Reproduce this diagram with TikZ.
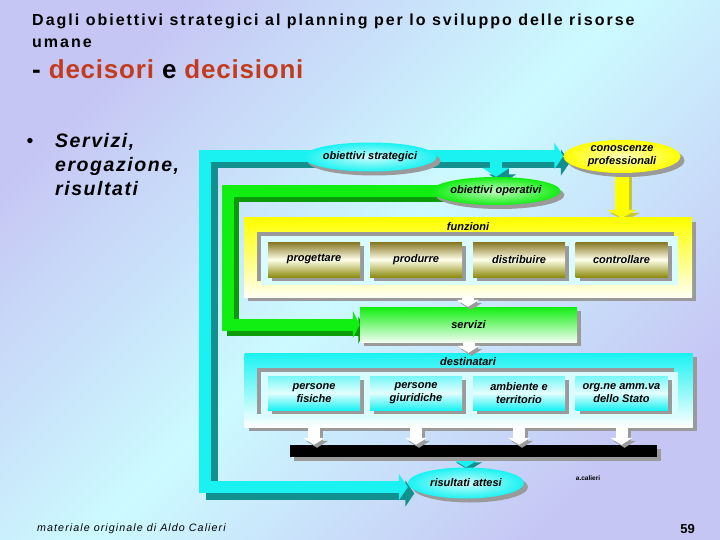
\documentclass[tikz,border=0pt]{standalone}
\usepackage{fontspec}
\setmainfont{Liberation Sans}
\newfontfamily\titolofont[LetterSpace=12.5]{Liberation Sans}
\newfontfamily\decifont[LetterSpace=3]{Liberation Sans}
\newfontfamily\puntofont[LetterSpace=8]{Liberation Sans}
\newfontfamily\piedefont[LetterSpace=10]{Liberation Sans}
\usetikzlibrary{shapes, shadows, positioning, arrows.meta}
\pgfdeclarelayer{sfondo}
\pgfdeclarelayer{fasce}
\pgfsetlayers{sfondo,fasce,main}

\definecolor{lavanda}{HTML}{C6C6F4}
\definecolor{celeste}{HTML}{CCFAFF}
\definecolor{ciano}{HTML}{1AF2F2}
\definecolor{ottanio}{HTML}{11908F}
\definecolor{verde}{HTML}{11EE11}
\definecolor{verdescuro}{HTML}{0A9A0A}
\definecolor{giallo}{HTML}{FFFF00}
\definecolor{oliva}{HTML}{857522}
\definecolor{olivabassa}{HTML}{8E8C10}
\definecolor{grigio}{HTML}{9A9A9A}
\definecolor{rosso}{HTML}{C43A1C}
\definecolor{crema}{HTML}{FFFFF2}
\definecolor{pannellocol}{HTML}{D8FCFF}

\tikzset{
	ombrata/.style={drop shadow={shadow xshift=4pt, shadow yshift=-4pt, fill=grigio, opacity=1}},
	incasso/.style={drop shadow={shadow xshift=-4pt, shadow yshift=4pt, fill=grigio, opacity=1}},
	testo/.style={font=\fontsize{11}{13.3}\selectfont\bfseries\itshape, align=center},
	ovale/.style={ellipse, testo, inner sep=0pt, ombrata},
	cornice/.style={rectangle, inner sep=0pt, minimum width=448pt, ombrata},
	pannello/.style={rectangle, inner sep=0pt, fill=pannellocol, minimum width=417pt, incasso},
	funzbox/.style={rectangle, testo, inner sep=0pt, minimum width=92pt, minimum height=35pt,
		top color=oliva, bottom color=olivabassa, middle color=white!92!yellow, ombrata},
	destbox/.style={rectangle, testo, inner sep=0pt, minimum width=92pt, minimum height=34pt,
		top color=ciano!60, bottom color=ciano, middle color=ciano!12, ombrata},
	fascia/.style={line width=12pt},
	bianca/.style={line width=12pt, white, -{Triangle[width=22pt,length=7pt]}},
	copia/.style={transform canvas={xshift=#1, yshift=-#1}}
}

\begin{document}
\begin{tikzpicture}[x=1pt, y=-1pt]
	\useasboundingbox (0,0) rectangle (720,540);
	\begin{pgfonlayer}{sfondo}
		\shade[top color=lavanda, bottom color=lavanda, middle color=celeste, shading angle=45] (0,0) rectangle (720,540);
	\end{pgfonlayer}

	%% Titolo
	\node[anchor=base west, inner sep=0pt, font=\titolofont\fontsize{16}{20}\selectfont\bfseries] (titolo) at (32,25.7)
	{Dagli obiettivi strategici al planning per lo sviluppo delle risorse};
	\node[anchor=base west, inner sep=0pt, font=\titolofont\fontsize{16}{20}\selectfont\bfseries] (titolo2) at (32,47.5)
	{umane};
	\node[anchor=base west, inner sep=0pt, font=\decifont\fontsize{26}{30}\selectfont\bfseries] (deci) at (32,79)
	{- \textcolor{rosso}{decisori} e \textcolor{rosso}{decisioni}};

	%% Punto elenco
	\node[anchor=base, inner sep=0pt, font=\fontsize{19.5}{24}\selectfont] (punto) at (30,147.3) {\textbullet};
	\node[anchor=base west, inner sep=0pt, font=\puntofont\fontsize{19.5}{24}\selectfont\bfseries\itshape] (serv1) at (55,147.3) {Servizi,};
	\node[anchor=base west, inner sep=0pt, font=\puntofont\fontsize{19.5}{24}\selectfont\bfseries\itshape] (serv2) at (55,171.7) {erogazione,};
	\node[anchor=base west, inner sep=0pt, font=\puntofont\fontsize{19.5}{24}\selectfont\bfseries\itshape] (serv3) at (55,196) {risultati};

	%% Obiettivi e conoscenze
	\node[ovale, minimum width=115pt, minimum height=29pt, inner color=ciano!22, outer color=ciano] (strat) at (370,157) {obiettivi strategici};
	\node[ovale, minimum width=117pt, minimum height=33pt, inner color=giallo!25, outer color=giallo] (cono) at (622,156.5) {conoscenze\\professionali};
	\node[ovale, minimum width=113pt, minimum height=28pt, inner color=verde!25, outer color=verde] (oper) at (496,191) {obiettivi operativi};

	%% Funzioni
	\node[cornice, minimum height=79pt, top color=giallo, bottom color=crema] (funz) at (468,257.5) {};
	\node[pannello, minimum height=49pt] (funzpan) at (469.5,260.5) {};
	\node[testo] (funzlab) at (468,226.5) {funzioni};
	\node[funzbox] (prog) at (314,259.5) {progettare};
	\node[funzbox] (prod) at (416,259.5) {produrre};
	\node[funzbox] (dist) at (519,259.5) {distribuire};
	\node[funzbox] (cont) at (621.5,259.5) {controllare};

	%% Servizi
	\node[rectangle, testo, inner sep=0pt, minimum width=217pt, minimum height=35pt, top color=verde, bottom color=verde!6, ombrata] (serv) at (468.5,324.5) {servizi};

	%% Destinatari
	\node[cornice, minimum height=74pt, top color=ciano, bottom color=white] (dest) at (468.5,390) {};
	\node[pannello, minimum height=46pt] (destpan) at (469.5,395) {};
	\node[testo] (destlab) at (468,361.5) {destinatari};
	\node[destbox] (fis) at (314,393) {persone\\fisiche};
	\node[destbox] (giu) at (416,393) {persone\\giuridiche};
	\node[destbox] (amb) at (519,393) {ambiente e\\territorio};
	\node[destbox] (org) at (621.5,393) {org.ne amm.va\\dello Stato};

	%% Barra e risultati
	\node[rectangle, fill=black, inner sep=0pt, minimum width=367pt, minimum height=12pt, ombrata] (barra) at (473.5,451) {};
	\node[ovale, minimum width=116pt, minimum height=31pt, inner color=ciano!22, outer color=ciano] (ris) at (466,483) {risultati attesi};
	\node[font=\fontsize{6.5}{8}\selectfont\bfseries] (sigla) at (588,478) {a.calieri};

	%% Piede
	\node[anchor=base west, inner sep=0pt, font=\piedefont\fontsize{10.7}{13}\selectfont\itshape] (piede) at (37,531.7) {materiale originale di Aldo Calieri};
	\node[anchor=base east, inner sep=0pt, font=\fontsize{13}{15}\selectfont\bfseries] (pagina) at (695,533) {59};

	%% Fasce dietro ai nodi
	\begin{pgfonlayer}{fasce}
		\coordinate (angcia) at (205,156);
		\coordinate (angbas) at (205,487);
		\coordinate (angver) at (227.5,191);
		%% ombre
		\draw[fascia, ottanio, copia=6.5pt, {Triangle[width=26pt,length=9pt]}-{Triangle[width=26pt,length=9pt]}]
		(angcia -| cono.west) -- (angcia) -- (angbas) -- (angbas -| ris.west);
		\draw[fascia, ottanio, copia=6.5pt, -{Triangle[width=27pt,length=9pt]}] (angcia -| oper.north) -- (oper.north);
		\draw[fascia, verdescuro, copia=5.5pt, -{Triangle[width=27pt,length=7pt]}] (oper.center) -- (angver) |- (serv.west);
		\draw[line width=14pt, giallo!55!gray, copia=3pt, -{Triangle[width=30pt,length=8pt]}] (cono.south) -- (cono.south |- funz.north);
		\draw[line width=11pt, ottanio, copia=3pt, -{Triangle[width=26pt,length=8pt]}] (barra.south -| ris.north) -- (ris.north);
		%% fasce
		\draw[fascia, ciano, {Triangle[width=26pt,length=9pt]}-{Triangle[width=26pt,length=9pt]}]
		(angcia -| cono.west) -- (angcia) -- (angbas) -- (angbas -| ris.west);
		\draw[fascia, ciano, -{Triangle[width=27pt,length=9pt]}] (angcia -| oper.north) -- (oper.north);
		\draw[fascia, verde, -{Triangle[width=27pt,length=7pt]}] (oper.center) -- (angver) |- (serv.west);
		\draw[line width=14pt, giallo, -{Triangle[width=30pt,length=8pt]}] (cono.south) -- (cono.south |- funz.north);
		\draw[line width=11pt, ciano, -{Triangle[width=26pt,length=8pt]}] (barra.south -| ris.north) -- (ris.north);
	\end{pgfonlayer}

	%% Frecce bianche
	\draw[bianca, grigio, copia=3pt] (funz.south) -- (funz.south |- serv.north);
	\draw[bianca] (funz.south) -- (funz.south |- serv.north);
	\draw[bianca, grigio, copia=3pt] (serv.south) -- (serv.south |- dest.north);
	\draw[bianca] (serv.south) -- (serv.south |- dest.north);
	\draw[bianca, grigio, copia=3pt] (fis.south |- dest.south) -- (fis.south |- barra.north);
	\draw[bianca] (fis.south |- dest.south) -- (fis.south |- barra.north);
	\draw[bianca, grigio, copia=3pt] (giu.south |- dest.south) -- (giu.south |- barra.north);
	\draw[bianca] (giu.south |- dest.south) -- (giu.south |- barra.north);
	\draw[bianca, grigio, copia=3pt] (amb.south |- dest.south) -- (amb.south |- barra.north);
	\draw[bianca] (amb.south |- dest.south) -- (amb.south |- barra.north);
	\draw[bianca, grigio, copia=3pt] (org.south |- dest.south) -- (org.south |- barra.north);
	\draw[bianca] (org.south |- dest.south) -- (org.south |- barra.north);
\end{tikzpicture}
\end{document}
